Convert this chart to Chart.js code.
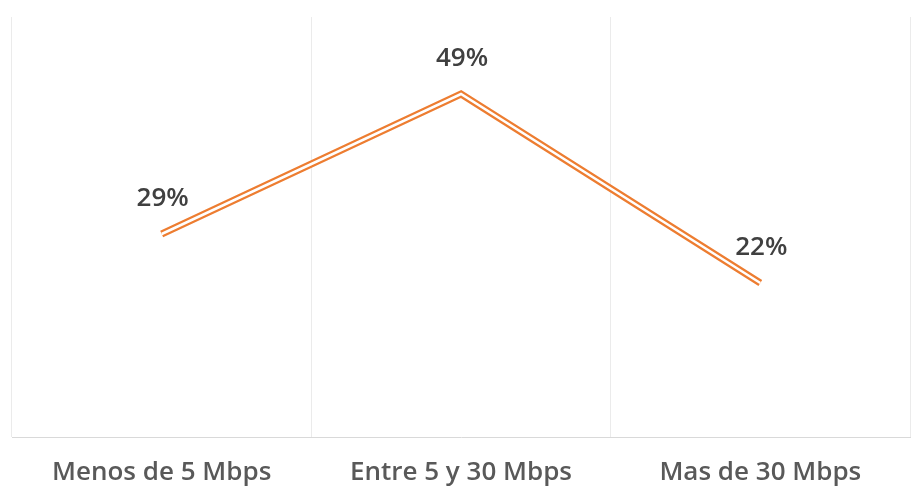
<!DOCTYPE html>
<html>
<head>
<meta charset="utf-8">
<script src="https://cdn.jsdelivr.net/npm/chart.js@4/dist/chart.umd.min.js"></script>
<style>
  html, body { margin: 0; padding: 0; background: #fff; }
  #wrap { width: 920px; height: 493px; }
</style>
</head>
<body>
<div id="wrap"><canvas id="speedChart"></canvas></div>
<script>
var categories = ['Menos de 5 Mbps', 'Entre 5 y 30 Mbps', 'Mas de 30 Mbps'];
var shares = [29, 49, 22];

// draws the % labels above each point
var pointLabels = {
    id: 'pointLabels',
    afterDatasetsDraw: function (chart) {
        var ctx = chart.ctx;
        var meta = chart.getDatasetMeta(0);
        ctx.save();
        ctx.font = '600 26px "Open Sans"';
        ctx.fillStyle = '#404040';
        ctx.textAlign = 'center';
        ctx.textBaseline = 'middle';
        meta.data.forEach(function (pt, i) {
            ctx.fillText(shares[i] + '%', pt.x + 1, pt.y - 35);
        });
        ctx.restore();
    }
};

var config = {
    type: 'line',
    data: {
        labels: categories,
        datasets: [{
            // white core, drawn on top
            data: shares,
            borderColor: '#ffffff',
            borderWidth: 2.5,
            pointRadius: 0,
            tension: 0,
            borderCapStyle: 'butt'
        }, {
            data: shares,
            borderColor: '#ed7d31',
            borderWidth: 7,
            pointRadius: 0,
            tension: 0,
            borderCapStyle: 'butt'
        }]
    },
    options: {
        responsive: true,
        maintainAspectRatio: false,
        animation: false,
        layout: { padding: { left: 12, right: 10, top: 17, bottom: 0 } },
        plugins: {
            legend: { display: false },
            tooltip: { enabled: false }
        },
        scales: {
            x: {
                offset: true,
                grid: { offset: true, color: '#ebebeb', drawTicks: false },
                border: { color: '#d9d9d9', width: 1 },
                ticks: {
                    padding: 20,
                    color: '#595959',
                    font: { family: '"Open Sans"', size: 26, weight: '600' }
                },
                afterFit: function (scale) {
                    scale.height = 56;
                }
            },
            y: {
                display: false,
                min: 0,
                max: 60
            }
        }
    },
    plugins: [pointLabels]
};

var ctx = document.getElementById('speedChart').getContext('2d');
window.myLine = new Chart(ctx, config);
</script>
</body>
</html>
